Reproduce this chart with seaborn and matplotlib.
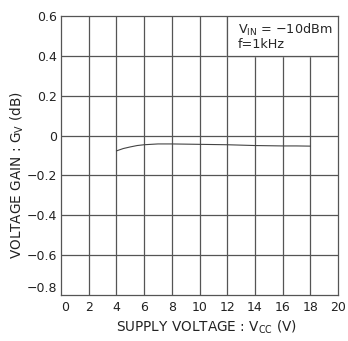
import matplotlib
matplotlib.use("Agg")
import matplotlib.pyplot as plt
import seaborn as sns
import pandas as pd

supply_v = [4, 4.5, 5, 5.5, 6, 7, 8, 9, 10, 11, 12, 13, 14, 15, 16, 17, 18]
gain_db = [-0.077, -0.065, -0.057, -0.050, -0.046, -0.042, -0.042, -0.043, -0.044,
           -0.045, -0.046, -0.048, -0.050, -0.051, -0.052, -0.052, -0.053]
x_ticks = [0, 2, 4, 6, 8, 10, 12, 14, 16, 18, 20]
y_ticks = [-0.8, -0.6, -0.4, -0.2, 0, 0.2, 0.4, 0.6]
y_tick_labels = ["\u22120.8", "\u22120.6", "\u22120.4", "\u22120.2", "0", "0.2", "0.4", "0.6"]

sns.set_style("white")
plt.rcParams['font.family'] = ['DejaVu Sans']

df = pd.DataFrame({"vcc": supply_v, "gain": gain_db})

fig = plt.figure(figsize=(3.48, 3.41), dpi=100)
ax = fig.add_axes([61/348, 1 - 295/341, 277/348, 279/341])

grid_c = "#555555"
for xv in x_ticks[1:-1]:
    ax.axvline(xv, color=grid_c, lw=0.9, zorder=1)
for yv in y_ticks[1:-1]:
    ax.axhline(yv, color=grid_c, lw=0.9, zorder=1)

# white box for conditions (top-right)
ax.fill_between([12, 20], 0.4, 0.6, color="white", zorder=2)
ax.plot([12, 12], [0.4, 0.6], color=grid_c, lw=0.9, zorder=3)
ax.plot([12, 20], [0.4, 0.4], color=grid_c, lw=0.9, zorder=3)

sns.lineplot(data=df, x="vcc", y="gain", ax=ax, color="#444444", lw=0.8, zorder=4)

ax.text(12.75, 0.53, "V$_{\\mathrm{IN}}$ = \u221210dBm", fontsize=9.2, va="center", ha="left", zorder=5)
ax.text(12.75, 0.455, "f=1kHz", fontsize=9.2, va="center", ha="left", zorder=5)

ax.set_xlim(0, 20)
ax.set_ylim(-0.8, 0.6)
ax.set_xticks(x_ticks)
ax.set_xticklabels([str(v) for v in x_ticks])
ax.set_yticks(y_ticks)
ax.set_yticklabels(y_tick_labels)
ax.tick_params(length=0, labelsize=9, pad=3, colors="#222222")
ax.tick_params(axis="x", pad=4)
ax.get_xticklabels()[0].set_horizontalalignment("left")
ax.get_yticklabels()[0].set_verticalalignment("bottom")

for s in ax.spines.values():
    s.set_color(grid_c)
    s.set_linewidth(0.9)

ax.set_xlabel("SUPPLY VOLTAGE : V$_{\\mathrm{CC}}$ (V)", fontsize=9.8, color="#222222")
ax.set_ylabel("VOLTAGE GAIN : G$_{\\mathrm{V}}$ (dB)", fontsize=9.8, color="#222222")
ax.xaxis.set_label_coords(0.525, -0.085)
ax.yaxis.set_label_coords(-0.128, 0.43)

fig.savefig("out.png", dpi=100)
